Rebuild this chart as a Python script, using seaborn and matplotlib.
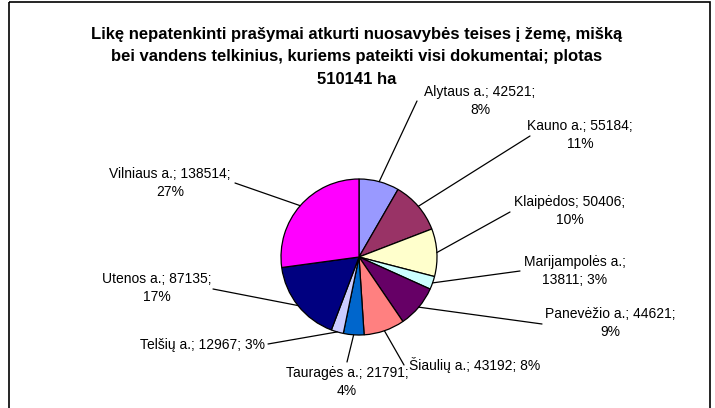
import numpy as np
import matplotlib
matplotlib.use("Agg")
import matplotlib.pyplot as plt
from matplotlib.patches import Rectangle
import seaborn as sns

sns.set_theme(style="white")
plt.rcParams["font.family"] = ["Liberation Sans", "DejaVu Sans"]

# ---- data ----
regions = ["Alytaus a.", "Kauno a.", "Klaipėdos", "Marijampolės a.", "Panevėžio a.",
           "Šiaulių a.", "Tauragės a.", "Telšių a.", "Utenos a.", "Vilniaus a."]
values = [42521, 55184, 50406, 13811, 44621, 43192, 21791, 12967, 87135, 138514]
colors = ["#9999FF", "#993366", "#FFFFCC", "#CCFFFF", "#660066",
          "#FF8080", "#0066CC", "#CCCCFF", "#000080", "#FF00FF"]
title_lines = ["Likę nepatenkinti prašymai atkurti nuosavybės teises į žemę, mišką",
               "bei vandens telkinius, kuriems pateikti visi dokumentai; plotas",
               "510141 ha"]

# ---- layout (pixel coordinates, y down) ----
W, H = 715, 408
center = (359, 257)
radius = 78
title_y = [34, 57, 80]
# label text centre, label line-break style, leader-line end
label_pos = [(480, 101), (580, 135), (570, 211), (575, 271), (610, 323),
             (475, 365), (347, 382), (202, 345), (157, 288), (170, 183)]
label_break = [2, 2, 2, 1, 2, 0, 2, 0, 2, 2]
leader_end = [(417, 101), (530, 136), (510, 212), (520, 271), (542, 324),
              (404, 365), (347, 362), (268, 344), (213, 289), (235, 183)]

fig = plt.figure(figsize=(W / 100, H / 100), dpi=100)
ax = fig.add_axes([0, 0, 1, 1])

# y axis inverted: counterclock in data = clockwise on screen; -90 = top
wedges, _ = ax.pie(values, colors=colors, center=center, radius=radius,
                   startangle=-90, counterclock=True,
                   wedgeprops=dict(edgecolor="black", linewidth=0.9))
ax.set_xlim(0, W)
ax.set_ylim(H, 0)
ax.set_aspect("equal")
ax.axis("off")

total = sum(values)
for i, w in enumerate(wedges):
    pct = round(values[i] / total * 100)
    b = label_break[i]
    if b == 2:
        txt = f"{regions[i]}; {values[i]};\n{pct}%"
    elif b == 1:
        txt = f"{regions[i]};\n{values[i]}; {pct}%"
    else:
        txt = f"{regions[i]}; {values[i]}; {pct}%"
    ax.text(label_pos[i][0], label_pos[i][1], txt, ha="center", va="center",
            fontsize=10, color="black", linespacing=1.45)
    th = np.deg2rad((w.theta1 + w.theta2) / 2)
    sx = center[0] + radius * np.cos(th)
    sy = center[1] + radius * np.sin(th)
    ex, ey = leader_end[i]
    ax.plot([sx, ex], [sy, ey], color="black", linewidth=0.9)

for line, y in zip(title_lines, title_y):
    ax.text(357, y, line, ha="center", va="center", fontsize=12,
            fontweight="bold", color="black")

# chart area frame
ax.add_patch(Rectangle((9, 2), 701, 420, fill=False, edgecolor="black",
                       linewidth=1.2, clip_on=False))

fig.savefig("out.png", dpi=100)
